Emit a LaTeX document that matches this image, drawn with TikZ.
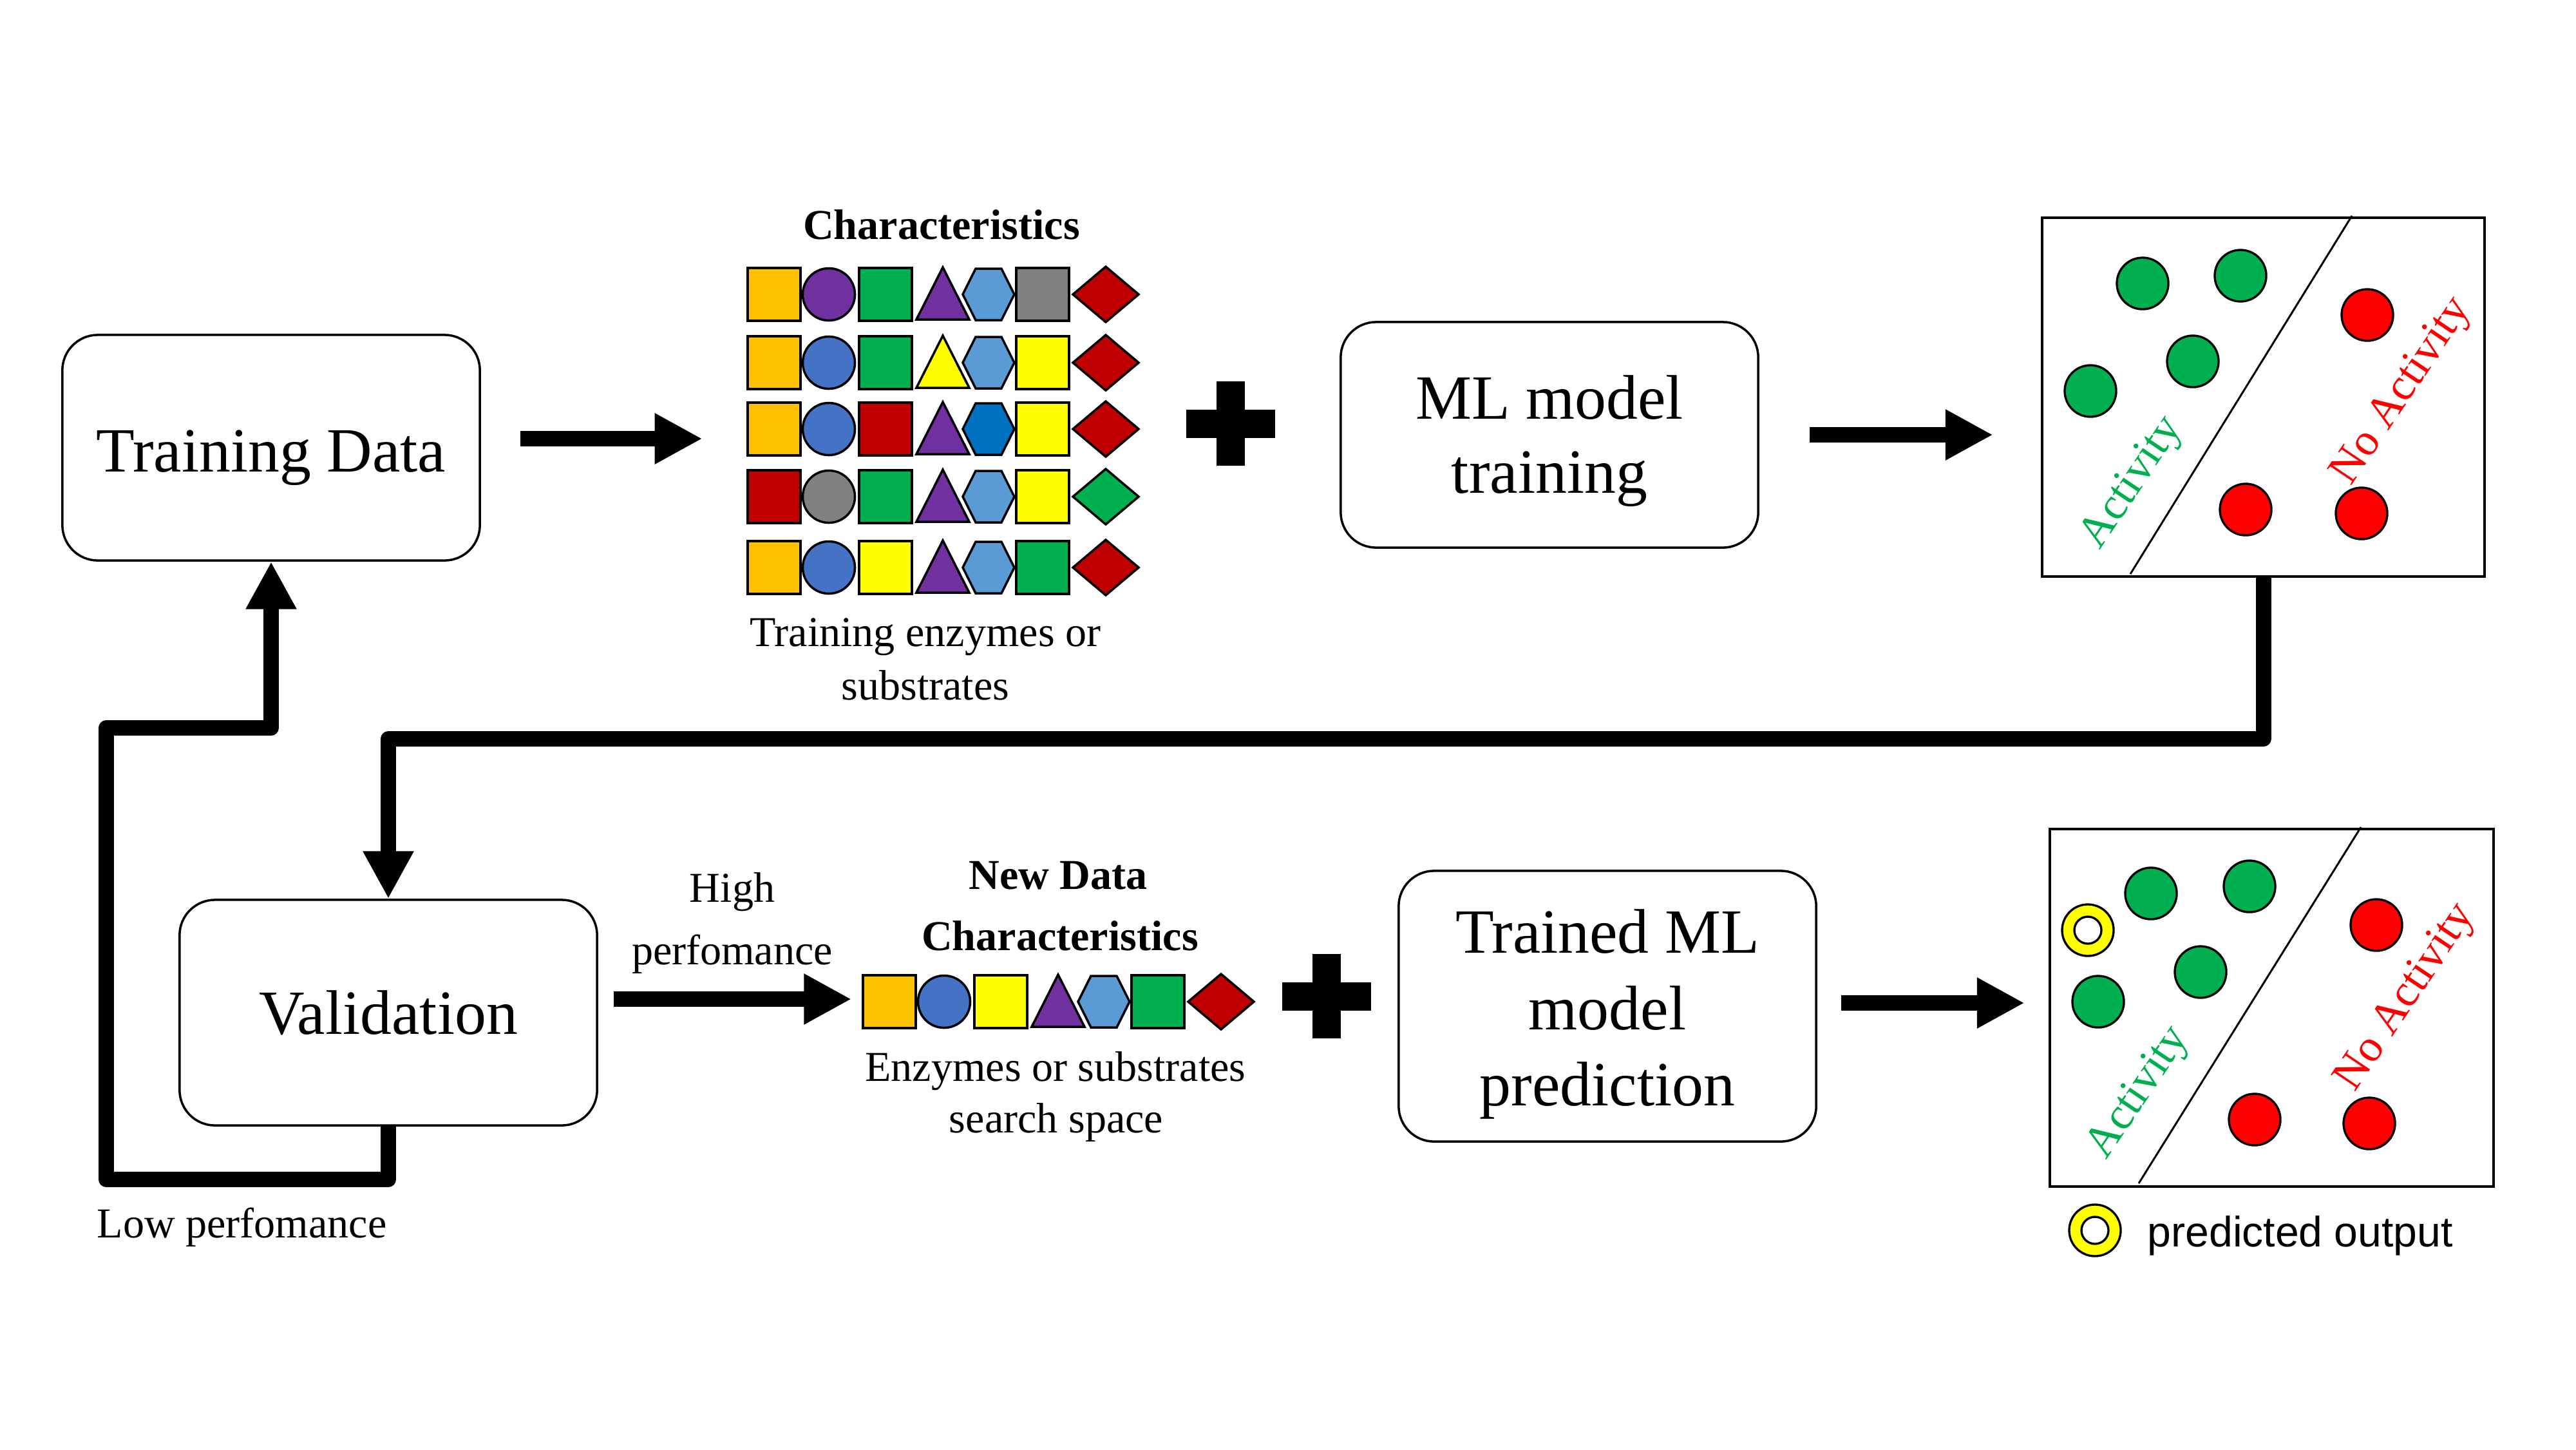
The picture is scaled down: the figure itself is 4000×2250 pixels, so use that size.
\documentclass[tikz,border=0pt]{standalone}
\usepackage{graphicx}
\usepackage{fontspec}
\setmainfont{Liberation Serif}
\newfontfamily\arialf{Liberation Sans}
\usetikzlibrary{arrows.meta,calc}
\definecolor{orng}{HTML}{FFC000}
\definecolor{purp}{HTML}{7030A0}
\definecolor{grn}{HTML}{00B050}
\definecolor{blu}{HTML}{4472C4}
\definecolor{lblu}{HTML}{5B9BD5}
\definecolor{dblu}{HTML}{0070C0}
\definecolor{gry}{HTML}{808080}
\definecolor{dred}{HTML}{C00000}
\definecolor{yel}{HTML}{FFFF00}
\definecolor{rd}{HTML}{FF0000}
\newcommand\bigfnt{\fontsize{27.8pt}{32.9pt}\selectfont}
\newcommand\smfnt{\fontsize{18.8pt}{22.6pt}\selectfont}
\newcommand\shaperow[9]{%
  \pic at (1202+#1,#2) {sq=#3};
  \pic at (1287+#1,#2) {ci=#4};
  \pic at (1375+#1,#2) {sq=#5};
  \pic at (1464+#1,#2) {tri=#6};
  \pic at (1535+#1,#2) {hex=#7};
  \pic at (1619+#1,#2) {sq=#8};
  \pic at (1717+#1,#2) {dia=#9};}
\tikzset{
  shp/.style={draw=black, line width=1pt, line join=miter},
  pics/sq/.style={code={\draw[shp,fill=#1] (-41,-41) rectangle (41,41);}},
  pics/ci/.style={code={\draw[shp,fill=#1] (0,0) circle[radius=0.405cm];}},
  pics/tri/.style={code={\draw[shp,fill=#1] (0,-42) -- (41,39) -- (-41,39) -- cycle;}},
  pics/hex/.style={code={\draw[shp,fill=#1] (-40,0) -- (-20,-40) -- (20,-40) -- (40,0) -- (20,40) -- (-20,40) -- cycle;}},
  pics/dia/.style={code={\draw[shp,fill=#1] (-51,0) -- (0,-43) -- (51,0) -- (0,43) -- cycle;}},
  box/.style={draw, line width=1pt, rounded corners=0.55cm, minimum width=6.48cm,
    minimum height=3.5cm, align=center, font=\bigfnt, inner sep=0pt},
  plotbox/.style={draw, line width=1.2pt, inner sep=0pt},
  inv/.style={inner sep=0pt},
  thk/.style={line width=6.8pt, line join=round},
  bigarrow/.style={thk, -{Triangle[length=21pt,width=21pt]}},
  captxt/.style={font=\smfnt, anchor=base, inner sep=0pt},
  captb/.style={font=\smfnt\bfseries, anchor=base, inner sep=0pt},
  dotln/.style={draw=black, line width=0.95pt},
  divln/.style={line width=0.85pt},
  act/.style={rotate=56, text=grn, font=\fontsize{20pt}{24pt}\selectfont, inner sep=0pt},
  nact/.style={rotate=56, text=rd, font=\fontsize{20pt}{24pt}\selectfont, inner sep=0pt},
}
\begin{document}
\begin{tikzpicture}[x=0.01cm,y=-0.01cm]
\fill[white] (0,0) rectangle (4000,2250);
\useasboundingbox (0,0) rectangle (4000,2250);

% ---------- top row ----------
\node[box] (TD) at (421,695) {\rule{0pt}{27.5pt}Training Data};
\node[captb] (charT) at (1462,371) {Characteristics};
\shaperow{0}{457}{orng}{purp}{grn}{purp}{lblu}{gry}{dred}
\shaperow{0}{563}{orng}{blu}{grn}{yel}{lblu}{yel}{dred}
\shaperow{0}{666}{orng}{blu}{dred}{purp}{dblu}{yel}{dred}
\shaperow{0}{771}{dred}{gry}{grn}{purp}{lblu}{yel}{grn}
\shaperow{0}{881}{orng}{blu}{yel}{purp}{lblu}{grn}{dred}
\node[inv, minimum width=6.07cm, minimum height=5.06cm] (chars) at (1464,669) {};
\node[captxt] (tr1) at (1437,1003) {Training enzymes or};
\node[captxt] (tr2) at (1437,1086) {substrates};
\fill (1842,636) rectangle (1980,680);
\fill (1889,592) rectangle (1933,723);
\node[box] (ML) at (2406,675) {\rule{0pt}{24.7pt}ML model\\training};

% top plot
\node[plotbox, minimum width=6.87cm, minimum height=5.57cm] (S1) at (3514.5,616.5) {};
\draw[divln] (3652,335) -- (3308,891);
\foreach \p in {(3327,440),(3479,428),(3405,561),(3246,607)}
  \draw[dotln, fill=grn] \p circle[radius=0.4cm];
\foreach \p in {(3676,489),(3487,791),(3667,797)}
  \draw[dotln, fill=rd] \p circle[radius=0.4cm];
\node[act] (act1) at (3312,750) {Activity};
\node[nact] (nact1) at (3731,608) {No Activity};

% ---------- bottom row ----------
\node[box] (Val) at (603,1572) {Validation};
\node[captxt] (hp1) at (1137,1400) {High};
\node[captxt] (hp2) at (1137,1497) {perfomance};
\node[captb] (nd1) at (1643,1380) {New Data};
\node[captb] (nd2) at (1646,1475) {Characteristics};
\shaperow{179}{1555}{orng}{blu}{yel}{purp}{lblu}{grn}{dred}
\node[inv, minimum width=6.06cm, minimum height=0.84cm] (newdata) at (1643,1555) {};
\node[captxt] (es1) at (1639,1678) {Enzymes or substrates};
\node[captxt] (es2) at (1640,1758) {search space};
\fill (1991,1525) rectangle (2129,1569);
\fill (2038,1481) rectangle (2082,1612);
\node[box, minimum height=4.2cm, font=\fontsize{27.8pt}{33.6pt}\selectfont] (Trained) at (2496,1562)
  {\rule{0pt}{26.4pt}Trained ML\\model\\prediction};
\node[captxt, anchor=base west] (low) at (150,1921) {Low perfomance};

% bottom plot
\node[plotbox, minimum width=6.89cm, minimum height=5.55cm] (S2) at (3527.5,1564.5) {};
\draw[divln] (3666,1284) -- (3321,1837);
\draw[dotln, fill=yel] (3242,1444) circle[radius=0.4cm];
\draw[dotln, fill=white] (3242,1444) circle[radius=0.21cm];
\foreach \p in {(3340,1387),(3493,1376),(3417,1509),(3258,1555)}
  \draw[dotln, fill=grn] \p circle[radius=0.4cm];
\foreach \p in {(3690,1436),(3501,1738),(3679,1744)}
  \draw[dotln, fill=rd] \p circle[radius=0.4cm];
\node[act] (act2) at (3322,1697) {Activity};
\node[nact] (nact2) at (3737,1549) {No Activity};
% legend
\draw[dotln, fill=yel] (3253,1910) circle[radius=0.4cm];
\draw[dotln, fill=white] (3253,1910) circle[radius=0.21cm];
\node[anchor=base west, inner sep=0pt, font=\arialf\fontsize{18.8pt}{22pt}\selectfont] (legend) at (3334,1935) {predicted output};

% ---------- connectors ----------
\coordinate (y1) at (0,681);
\coordinate (y2) at (0,675);
\coordinate (y3) at (0,1551);
\coordinate (y4) at (0,1557);
\coordinate (y5) at (0,1147);
\coordinate (lb) at (165,1831);
\coordinate (lt) at (165,1130);
\draw[bigarrow, shorten <=0.61cm, shorten >=0.69cm] (TD.east |- y1) -- (chars.west |- y1);
\draw[bigarrow, shorten <=0.78cm, shorten >=0.74cm] (ML.east |- y2) -- (S1.west |- y2);
\draw[bigarrow, shorten <=0.24cm, shorten >=0.17cm] (Val.east |- y3) -- (newdata.west |- y3);
\draw[bigarrow, shorten <=0.37cm, shorten >=0.37cm] (Trained.east |- y4) -- (S2.west |- y4);
\draw[bigarrow] (S1.south) -- (S1.south |- y5) -| (Val.north);
\draw[bigarrow] (Val.south) |- (lb) -- (lt) -| (TD.south);
\end{tikzpicture}
\end{document}
